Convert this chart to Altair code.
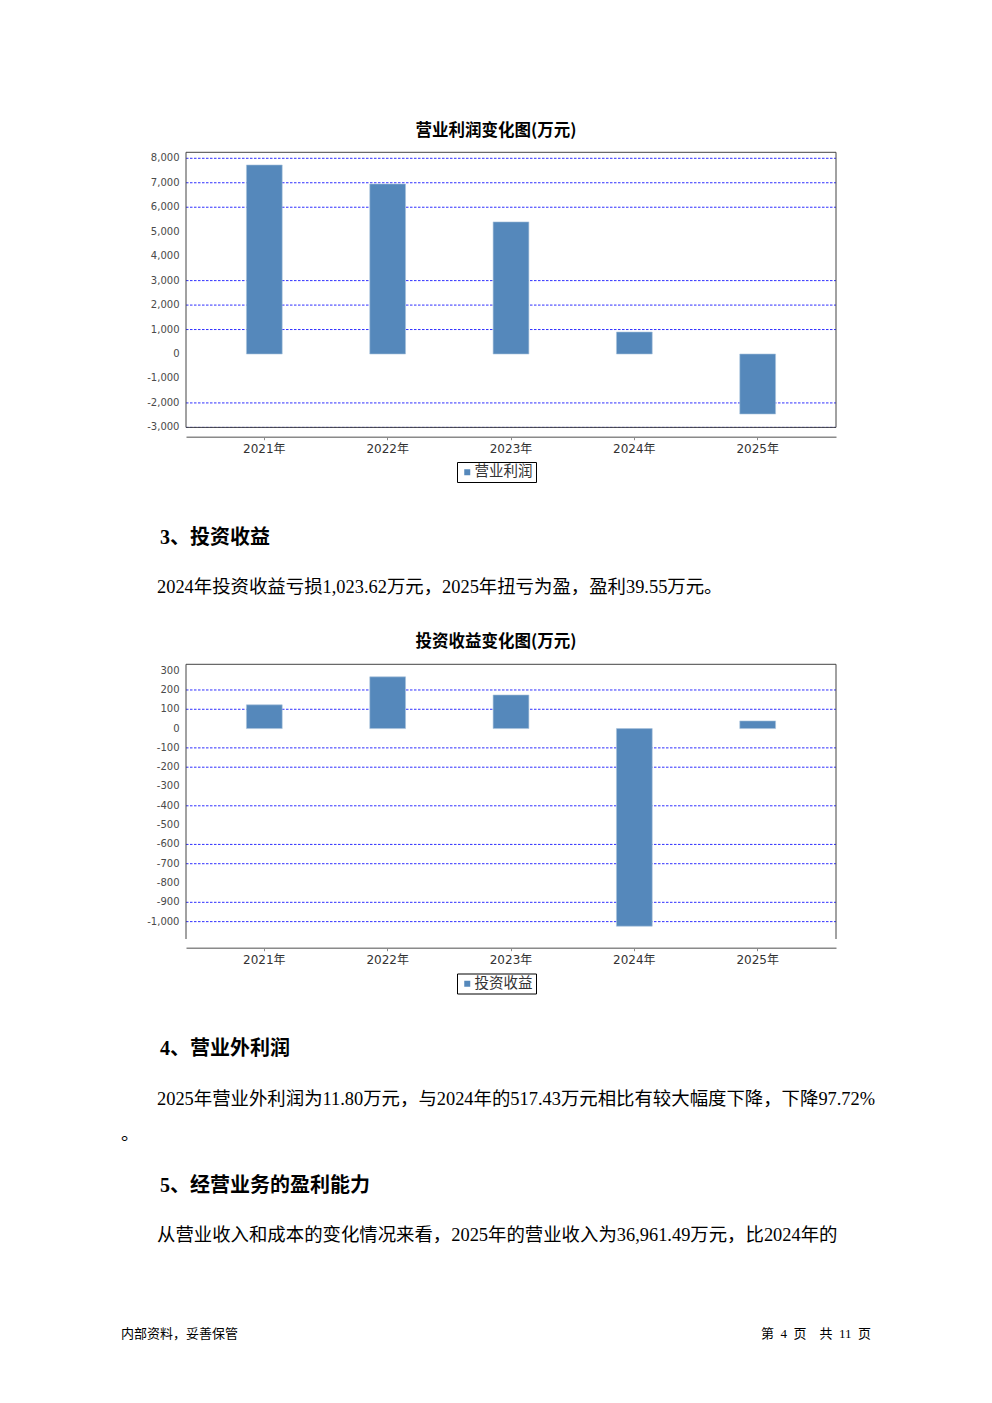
import altair as alt
import pandas as pd

# ---------------- data ----------------
years = ["2021年", "2022年", "2023年", "2024年", "2025年"]

op_series = "营业利润"
op_values = [7727, 6950, 5400, 899, -2453]
op_ticks = [8000, 7000, 6000, 5000, 4000, 3000, 2000, 1000, 0, -1000, -2000, -3000]
op_grid = [8000, 7000, 6000, 3000, 2000, 1000, -2000, -3000]
op_domain = [-3000, 8245]

inv_series = "投资收益"
inv_values = [123, 268, 174, -1023.62, 39.55]
inv_ticks = [300, 200, 100, 0, -100, -200, -300, -400, -500, -600, -700, -800, -900, -1000]
inv_grid = [200, 100, -100, -200, -400, -600, -700, -900, -1000]
inv_domain = [-1090, 333]

title1 = "营业利润变化图(万元)"
title2 = "投资收益变化图(万元)"
heading3 = "3、投资收益"
para3 = "2024年投资收益亏损1,023.62万元，2025年扭亏为盈，盈利39.55万元。"
heading4 = "4、营业外利润"
para4a = "2025年营业外利润为11.80万元，与2024年的517.43万元相比有较大幅度下降，下降97.72%"
para4b = "。"
heading5 = "5、经营业务的盈利能力"
para5 = "从营业收入和成本的变化情况来看，2025年的营业收入为36,961.49万元，比2024年的"
footer_left = "内部资料，妥善保管"
footer_right = "第\u20024\u2002页\u2003共\u200211\u2002页"

# ---------------- layout / style ----------------
OFF = 8
W, H = 976, 1380
X0, X1 = 186 - OFF, 836 - OFF
BAR = "#5588BB"
GRID = "#2f2fff"
FRAME = "#444444"
SANS = "'DejaVu Sans', 'Noto Sans CJK SC'"
CJK = "'Noto Sans CJK SC'"
SERIF = "'Liberation Serif', 'Noto Sans CJK SC'"


def panel(vals, series, domain, ticks, grid, top, bottom, axis_y, legend_top, closed):
    df = pd.DataFrame({"year": years, "value": vals, "series": [series] * len(years)})
    xs = alt.Scale(domain=years, range=[X0, X1], paddingInner=0.71, paddingOuter=0.49)
    ys = alt.Scale(domain=domain, range=[bottom - OFF, top - OFF], nice=False, zero=False)

    gridl = alt.Chart(pd.DataFrame({"g": grid})).mark_rule(
        color=GRID, strokeDash=[2.5, 1.5], strokeWidth=1
    ).encode(
        y=alt.Y("g:Q", scale=ys, axis=None),
        x=alt.value(X0), x2=alt.value(X1),
    )

    labels = alt.Chart(pd.DataFrame({
        "t": ticks, "lab": [f"{v:,}" for v in ticks]
    })).mark_text(
        align="right", baseline="middle", font=SANS, fontSize=10, color="#4a4a4a"
    ).encode(
        y=alt.Y("t:Q", scale=ys, axis=None),
        x=alt.value(X0 - 6.5),
        text="lab:N",
    )

    bars = alt.Chart(df).mark_bar(stroke="#a9c2dc", strokeWidth=0.6).encode(
        x=alt.X("year:N", scale=xs, sort=years, axis=alt.Axis(
            orient="bottom", offset=(axis_y - OFF) - H, title=None, labelAngle=0,
            domainColor="#8a8a8a", domainWidth=1.5, tickColor="#8a8a8a", tickSize=3,
            labelFont=SANS, labelFontSize=12, labelColor="#333333", labelPadding=4,
            grid=False)),
        y=alt.Y("value:Q", scale=ys, axis=None),
        y2=alt.datum(0),
        color=alt.Color("series:N", scale=alt.Scale(range=[BAR]), legend=alt.Legend(
            orient="none", legendX=457 - OFF, legendY=legend_top - OFF, title=None,
            symbolType="square", symbolSize=36, symbolStrokeWidth=0,
            labelFont=CJK, labelFontSize=14.5, labelColor="#333333", labelOffset=0,
            strokeColor="#000000", fillColor="#ffffff", padding=3, cornerRadius=0)),
    )

    dom_top = domain[1]
    dom_bot = domain[0]
    one = pd.DataFrame({"k": [0]})
    layers = [gridl, bars, labels]
    if closed:
        frame = alt.Chart(one).mark_rect(filled=False, stroke=FRAME, strokeWidth=1).encode(
            x=alt.value(X0), x2=alt.value(X1),
            y=alt.YDatum(dom_top, axis=None), y2=alt.datum(dom_bot),
        )
        layers.append(frame)
    else:
        topl = alt.Chart(one).mark_rule(color=FRAME, strokeWidth=1).encode(
            x=alt.value(X0), x2=alt.value(X1), y=alt.YDatum(dom_top, axis=None))
        left = alt.Chart(one).mark_rule(color=FRAME, strokeWidth=1).encode(
            x=alt.value(X0), y=alt.YDatum(dom_top, axis=None), y2=alt.datum(dom_bot))
        right = alt.Chart(one).mark_rule(color=FRAME, strokeWidth=1).encode(
            x=alt.value(X1), y=alt.YDatum(dom_top, axis=None), y2=alt.datum(dom_bot))
        layers += [topl, left, right]
    return alt.layer(*layers)


def txt(s, x, y, size, weight="normal", font=SERIF, align="left", color="#000000"):
    return alt.Chart(pd.DataFrame({"t": [s]})).mark_text(
        align=align, baseline="middle", fontSize=size, fontWeight=weight,
        font=font, color=color
    ).encode(text="t:N", x=alt.value(x - OFF), y=alt.value(y - OFF))


c1 = panel(op_values, op_series, op_domain, op_ticks, op_grid,
           top=152.3, bottom=427.4, axis_y=436.7, legend_top=462, closed=True)
c2 = panel(inv_values, inv_series, inv_domain, inv_ticks, inv_grid,
           top=664.3, bottom=939, axis_y=947.7, legend_top=973.5, closed=False)

texts = [
    txt(title1, 496, 131, 16.5, "bold", CJK, "center"),
    txt(heading3, 160, 538, 20, "bold"),
    txt(para3, 157, 587, 18.4),
    txt(title2, 496, 642, 16.5, "bold", CJK, "center"),
    txt(heading4, 160, 1049, 20, "bold"),
    txt(para4a, 157, 1099, 18.4),
    txt(para4b, 121, 1134, 18.4),
    txt(heading5, 160, 1186, 20, "bold"),
    txt(para5, 157, 1235, 18.4),
    txt(footer_left, 121, 1334, 13, "normal", CJK),
    txt(footer_right, 871, 1334, 13, "normal", SERIF, "right"),
]

chart = alt.layer(c1, c2, *texts).resolve_scale(
    x="independent", y="independent", color="independent"
).resolve_axis(
    x="independent", y="independent"
).resolve_legend(
    color="independent"
).properties(
    width=W, height=H, autosize=alt.AutoSizeParams(type="none"), padding=0,
    background="#ffffff"
).configure_view(stroke=None)

chart.save("out.html", embed_options={"renderer": "svg", "actions": False})
